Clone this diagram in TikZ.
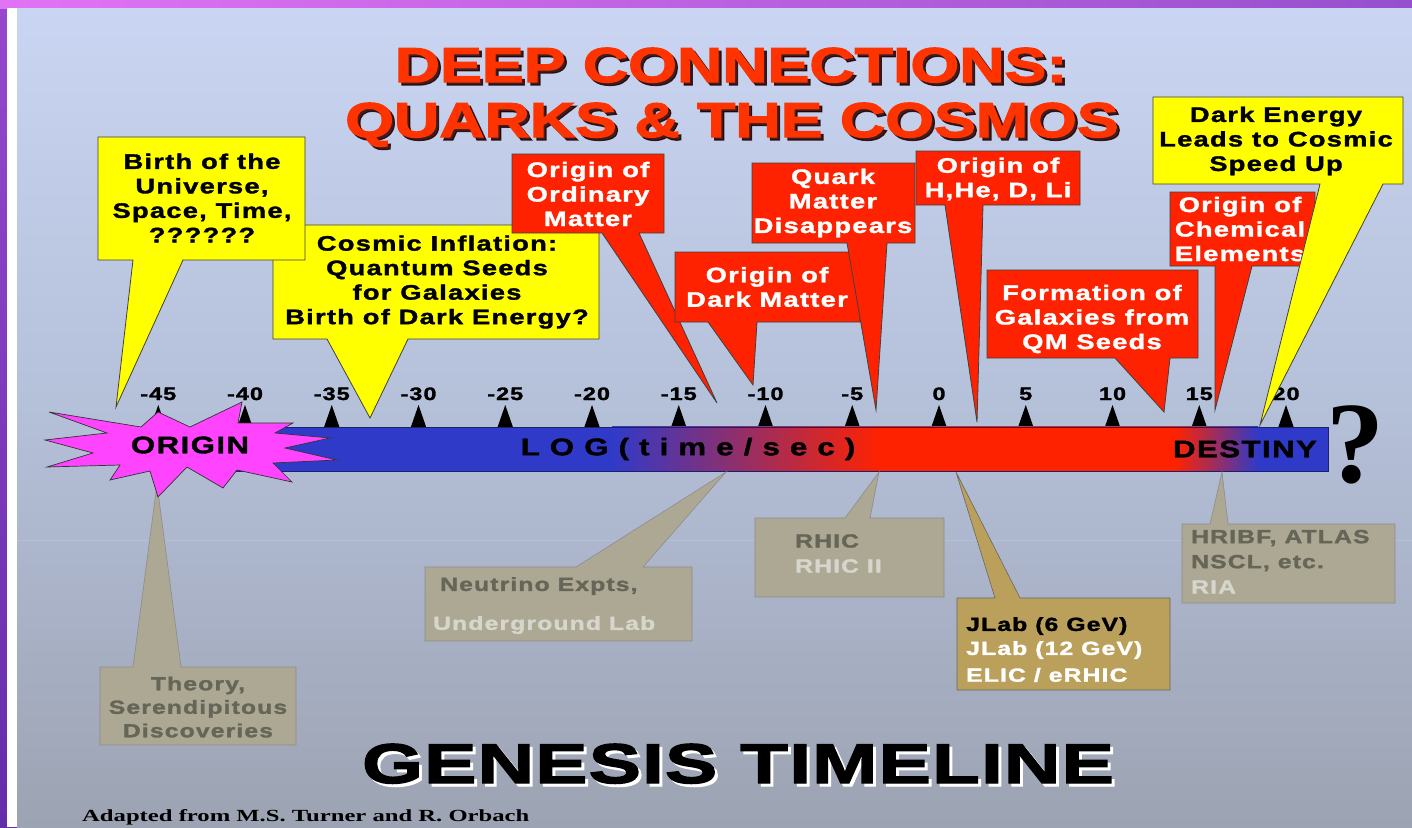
\documentclass[tikz,border=0pt]{standalone}
\usepackage{fontspec}
\usepackage{graphicx}
\setmainfont{Liberation Sans}
\newfontfamily\cf{Liberation Sans}[FakeStretch=1.3,LetterSpace=6,FakeBold=1.6]
\newfontfamily\tf{Liberation Sans}[FakeStretch=1.28,FakeBold=2.5]
\newfontfamily\gfont{Liberation Sans}[FakeStretch=1.4,LetterSpace=2,FakeBold=2.5]
\newfontfamily\serfont{Liberation Serif}[FakeStretch=1.45]
\newfontfamily\qmfont{Liberation Serif}
\definecolor{ylw}{RGB}{255,255,0}
\definecolor{rd}{RGB}{255,34,0}
\definecolor{ttl}{RGB}{255,51,0}
\definecolor{barblue}{RGB}{48,58,200}
\definecolor{barred}{RGB}{255,34,0}
\definecolor{starpink}{RGB}{255,68,255}
\definecolor{gry}{RGB}{173,168,148}
\definecolor{gold}{RGB}{186,160,90}
\definecolor{dtxt}{RGB}{102,102,88}
\definecolor{ltxt}{RGB}{214,214,204}
\definecolor{bgtop}{RGB}{201,213,242}
\definecolor{bgmid}{RGB}{180,191,216}
\definecolor{bgbot}{RGB}{156,163,178}
\definecolor{purpT}{RGB}{150,72,205}
\definecolor{purpB}{RGB}{100,45,170}
\definecolor{magL}{RGB}{225,115,245}
\definecolor{magR}{RGB}{150,80,205}
\tikzset{
  yc/.style={fill=ylw, draw=black!75, line width=0.8pt},
  rc/.style={fill=rd, draw=black!75, line width=0.8pt},
  gc/.style={fill=gry, draw=black!45, line width=0.6pt},
  jc/.style={fill=gold, draw=black!60, line width=0.6pt},
  ct/.style={font=\cf\bfseries\fontsize{21}{24.5}\selectfont, align=center, inner sep=0pt},
  gt/.style={font=\cf\bfseries\fontsize{19}{23.5}\selectfont, align=center, inner sep=0pt},
  lt/.style={font=\cf\bfseries\fontsize{19}{23.5}\selectfont, anchor=west, inner sep=0pt},
  ticklab/.style={font=\cf\bfseries\fontsize{18}{20}\selectfont, anchor=base, inner sep=0pt},
  bartext/.style={font=\cf\bfseries\fontsize{24}{26}\selectfont, inner sep=0pt},
  ttext/.style={font=\tf\bfseries\fontsize{49}{52}\selectfont, anchor=base, inner sep=0pt}
}
\begin{document}
\begin{tikzpicture}[x=1pt,y=-1pt]
\useasboundingbox (0,0) rectangle (1412,827);
% background frame
\fill[top color=purpT,bottom color=purpB] (0,0) rectangle (1412,827);
\fill[left color=magL,right color=magR] (0,0) rectangle (1412,8);
\fill[white] (7,8) rectangle (17,827);
\fill[top color=bgtop,bottom color=bgmid] (17,8) rectangle (1412,421);
\fill[top color=bgmid,bottom color=bgbot] (17,420) rectangle (1412,827);
\draw[white,opacity=0.12,line width=1pt] (17,540) -- (1412,540);

% ticks
\foreach \v in {-45,-40,...,20}{
  \pgfmathsetmacro\xx{939+17.35*\v}
  \fill[black] (\xx-8,428) -- (\xx,405) -- (\xx+8,428) -- cycle;
  \node[ticklab] (tk\v) at (\xx,400) {\v};
}

% bar
\fill[barblue] (200,427) rectangle (1328,471);
\shade[left color=barblue,right color=barred] (612,426) rectangle (881,471);
\fill[barred] (880,426) rectangle (1176,471);
\shade[left color=barred,right color=barblue] (1175,426) rectangle (1258,471);
\draw[barblue!55!black,line width=0.6pt] (200,427) rectangle (1328,471);

% lower (grey) callouts
\coordinate (tTheory) at (157,484);
\coordinate (tNeu) at (726,472);
\coordinate (tRhic) at (879,472);
\coordinate (tJlab) at (956,472);
\coordinate (tHri) at (1222,472);
\draw[gc] (100,667) -- (133,667) -- (tTheory) -- (181,667) -- (296,667) -- (296,745) -- (100,745) -- cycle;
\draw[gc] (425,567) -- (576,567) -- (tNeu) -- (643,567) -- (692,567) -- (692,641) -- (425,641) -- cycle;
\draw[gc] (755,518) -- (845,518) -- (tRhic) -- (870,518) -- (944,518) -- (944,597) -- (755,597) -- cycle;
\draw[jc] (957,598) -- (995,598) -- (tJlab) -- (1020,598) -- (1170,598) -- (1170,690) -- (957,690) -- cycle;
\draw[gc] (1182,524) -- (1210,524) -- (tHri) -- (1228,524) -- (1395,524) -- (1395,603) -- (1182,603) -- cycle;

\node[gt,text=dtxt] (theory) at (198,707) {Theory,\\Serendipitous\\Discoveries};
\node[lt,text=dtxt] (neu1) at (440,586) {Neutrino Expts,};
\node[lt,text=ltxt] (neu2) at (433,625) {Underground Lab};
\node[lt,text=dtxt] (rhic1) at (795,541) {RHIC};
\node[lt,text=ltxt] (rhic2) at (795,566) {RHIC II};
\node[lt,text=black] (jl1) at (966,626) {JLab (6 GeV)};
\node[lt,text=white] (jl2) at (966,650) {JLab (12 GeV)};
\node[lt,text=white] (jl3) at (966,675) {ELIC / eRHIC};
\node[lt,text=dtxt] (hr1) at (1191,538) {HRIBF, ATLAS};
\node[lt,text=dtxt] (hr2) at (1191,563) {NSCL, etc.};
\node[lt,text=ltxt] (hr3) at (1191,587) {RIA};

% origin star
\draw[fill=starpink,draw=black!80,line width=0.7pt]
 (49,412) -- (141,427) -- (158,412) -- (190,427) -- (242,402) -- (238,423)
 -- (293,423) -- (275,433) -- (330,438) -- (285,448) -- (337,460) -- (273,463)
 -- (292,482) -- (237,470) -- (223,488) -- (187,467) -- (158,497) -- (150,471)
 -- (110,480) -- (120,465) -- (47,467) -- (93,453) -- (45,440) -- (107,433) -- cycle;
\node[bartext] (origin) at (190,445) {ORIGIN};
\node[bartext] (logt) at (688,449) {L O G ( t i m e / s e c )};
\node[bartext] (destiny) at (1245,449) {DESTINY};
\node[font=\qmfont\bfseries\fontsize{116}{120}\selectfont,anchor=base,inner sep=0pt] (qm) at (1355,482) {?};

% upper callouts
\coordinate (tCos) at (370,418);
\coordinate (tBirth) at (116,407);
\coordinate (tOrd) at (717,403);
\coordinate (tDM) at (753,385);
\coordinate (tQM) at (876,410);
\coordinate (tH) at (977,422);
\coordinate (tGal) at (1164,412);
\coordinate (tChem) at (1215,410);
\coordinate (tDE) at (1260,425);

\draw[yc] (273,225) -- (599,225) -- (599,339) -- (408,339) -- (tCos) -- (327,339) -- (273,339) -- cycle;
\node[ct] (cosmic) at (437,282) {Cosmic Inflation:\\Quantum Seeds\\for Galaxies\\Birth of Dark Energy?};
\draw[yc] (98,137) -- (305,137) -- (305,260) -- (183,260) -- (tBirth) -- (133,260) -- (98,260) -- cycle;
\node[ct] (birth) at (202,198) {Birth of the\\Universe,\\Space, Time,\\??????};

\draw[rc] (512,154) -- (664,154) -- (664,233) -- (639,233) -- (tOrd) -- (602,233) -- (512,233) -- cycle;
\node[ct,text=white] (ord) at (588,194) {Origin of\\Ordinary\\Matter};
\draw[rc] (675,252) -- (860,252) -- (860,322) -- (757,322) -- (tDM) -- (708,322) -- (675,322) -- cycle;
\node[ct,text=white] (dm) at (767,287) {Origin of\\Dark Matter};
\draw[rc] (752,163) -- (915,163) -- (915,243) -- (887,243) -- (tQM) -- (847,243) -- (752,243) -- cycle;
\node[ct,text=white] (qmd) at (833,203) {Quark\\Matter\\Disappears};
\draw[rc] (916,151) -- (1080,151) -- (1080,205) -- (983,205) -- (tH) -- (945,205) -- (916,205) -- cycle;
\node[ct,text=white] (hhe) at (998,179) {Origin of\\H,He, D, Li};
\draw[rc] (987,270) -- (1198,270) -- (1198,358) -- (1170,358) -- (tGal) -- (1115,358) -- (987,358) -- cycle;
\node[ct,text=white] (gal) at (1092,319) {Formation of\\Galaxies from\\QM Seeds};
\draw[rc] (1170,192) -- (1315,192) -- (1315,266) -- (1252,266) -- (tChem) -- (1215,266) -- (1170,266) -- cycle;
\node[ct,text=white] (chem) at (1240,229) {Origin of\\Chemical\\Elements};
\draw[yc] (1153,97) -- (1403,97) -- (1403,184) -- (1383,184) -- (tDE) -- (1320,184) -- (1153,184) -- cycle;
\node[ct] (de) at (1276,141) {Dark Energy\\Leads to Cosmic\\Speed Up};

% titles
\node[ttext,text=black!85!red,opacity=0.85] at (734,85) {DEEP CONNECTIONS:};
\node[ttext,text=ttl] (title1) at (731,82) {DEEP CONNECTIONS:};
\node[ttext,text=black!85!red,opacity=0.85] at (735,140) {QUARKS \& THE COSMOS};
\node[ttext,text=ttl] (title2) at (732,137) {QUARKS \& THE COSMOS};

\node[font=\gfont\bfseries\fontsize{56}{60}\selectfont,anchor=base,inner sep=0pt,text=white] at (741,786) {GENESIS TIMELINE};
\node[font=\gfont\bfseries\fontsize{56}{60}\selectfont,anchor=base,inner sep=0pt,text=black] (gen) at (738,783) {GENESIS TIMELINE};

\node[font=\serfont\bfseries\fontsize{17}{20}\selectfont,anchor=base west,inner sep=0pt] (adapt) at (82,821) {Adapted from M.S. Turner and R. Orbach};
\end{tikzpicture}
\end{document}
